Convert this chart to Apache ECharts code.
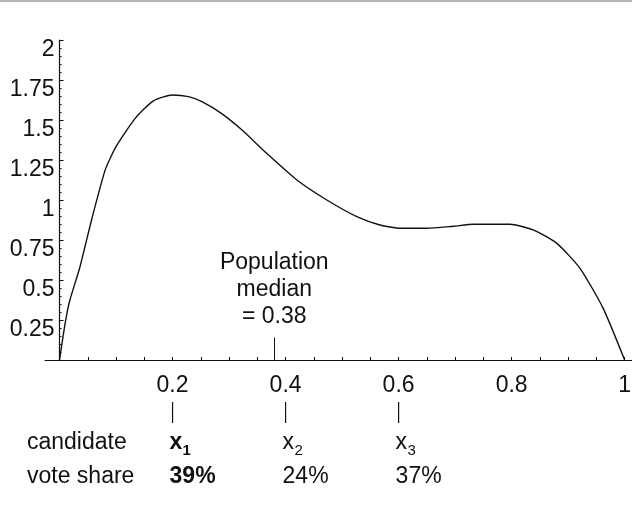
<!DOCTYPE html>
<html>
<head>
<meta charset="utf-8">
<script src="https://cdn.jsdelivr.net/npm/echarts@6/dist/echarts.min.js"></script>
<style>
  html, body { margin: 0; padding: 0; background: #fff; }
  #main { width: 632px; height: 516px; }
</style>
</head>
<body>
<div id="main"></div>
<script>
// density curve
var xs = [0, 0.01, 0.018, 0.036, 0.057, 0.081, 0.101, 0.134, 0.166, 0.2, 0.228, 0.252, 0.287, 0.322,
  0.367, 0.42, 0.473, 0.526, 0.567, 0.603, 0.65, 0.697, 0.732, 0.797, 0.839, 0.88, 0.921, 0.962, 1.0];
var ys = [0, 0.23, 0.37, 0.58, 0.88, 1.19, 1.34, 1.51, 1.62, 1.656, 1.646, 1.615, 1.54, 1.44,
  1.29, 1.125, 1.0, 0.896, 0.844, 0.823, 0.823, 0.836, 0.848, 0.848, 0.812, 0.729, 0.573, 0.323, 0];

var median = 0.38;
var medianTickTop = 0.14;

var xLabelValues = [0.2, 0.4, 0.6, 0.8, 1];
var xTickValues = [0.05, 0.1, 0.15, 0.2, 0.25, 0.3, 0.35, 0.4, 0.45, 0.5,
  0.55, 0.6, 0.65, 0.7, 0.75, 0.8, 0.85, 0.9, 0.95, 1];

// candidates table under the axis
var candidatePos = [0.2, 0.4, 0.6];
var candidateSub = ['1', '2', '3'];
var voteShare = ['39%', '24%', '37%'];
var winner = 0;

var FONT = '"Liberation Sans", Arial, Helvetica, sans-serif';
var INK = '#111';

var chart = echarts.init(document.getElementById('main'), null, { renderer: 'canvas' });

var option = {
  animation: false,
  backgroundColor: '#fff',
  textStyle: { fontFamily: FONT, color: INK },
  grid: { left: 45, right: 0, top: 40, bottom: 156, containLabel: false, outerBoundsMode: 'none' },
  xAxis: {
    type: 'value',
    min: -0.0257,
    max: 1.013,
    splitLine: { show: false },
    axisLine: { lineStyle: { color: INK, width: 1.2 } },
    axisTick: {
      inside: true, length: 3,
      customValues: xTickValues,
      lineStyle: { color: INK, width: 1 }
    },
    axisLabel: {
      customValues: xLabelValues,
      fontSize: 23, color: INK, fontFamily: FONT, margin: 14
    }
  },
  yAxis: {
    type: 'value',
    min: 0,
    max: 2,
    interval: 0.25,
    offset: -14.5, // y axis sits at x = 0, not at the grid edge
    splitLine: { show: false },
    axisLine: { onZero: false, lineStyle: { color: INK, width: 1.2 } },
    axisTick: { inside: true, length: 4, lineStyle: { color: INK, width: 1 } },
    minorTick: { show: true, splitNumber: 5, length: 2, lineStyle: { color: INK, width: 1 } },
    axisLabel: {
      showMinLabel: false,
      fontSize: 23, color: INK, fontFamily: FONT, margin: 5,
      verticalAlign: 'top', lineHeight: 20
    }
  },
  series: [{
    type: 'line',
    data: xs.map(function (x, i) { return [x, ys[i]]; }),
    showSymbol: false,
    smooth: 0.2,
    lineStyle: { color: INK, width: 1.4 },
    markLine: {
      silent: true,
      symbol: 'none',
      lineStyle: { color: INK, width: 1, type: 'solid' },
      label: {
        show: true,
        position: 'end',
        distance: 7,
        formatter: 'Population\nmedian\n= ' + median,
        fontSize: 23,
        lineHeight: 27,
        color: INK,
        fontFamily: FONT
      },
      data: [[{ coord: [median, 0] }, { coord: [median, medianTickTop] }]]
    }
  }]
};
chart.setOption(option);

// table of candidates, placed with the x axis scale
var axisY = chart.convertToPixel({ yAxisIndex: 0 }, 0);
var g = [
  { type: 'rect', shape: { x: 0, y: 0, width: 632, height: 2 }, style: { fill: '#b5b5b5' } },
  { type: 'text', left: 27, top: axisY + 83 - 12,
    style: { text: 'candidate', fontSize: 23, fontFamily: FONT, fill: INK } },
  { type: 'text', left: 27, top: axisY + 117 - 12,
    style: { text: 'vote share', fontSize: 23, fontFamily: FONT, fill: INK } }
];
candidatePos.forEach(function (c, i) {
  var px = chart.convertToPixel({ xAxisIndex: 0 }, c);
  var bold = i === winner ? 'bold' : 'normal';
  g.push({ type: 'line', shape: { x1: px, y1: axisY + 42, x2: px, y2: axisY + 63 },
    style: { stroke: INK, lineWidth: 1.2 } });
  g.push({ type: 'text', x: px - 3, y: axisY + 83,
    style: { text: 'x', fontSize: 23, fontWeight: bold, fontFamily: FONT, fill: INK,
      align: 'left', verticalAlign: 'middle' } });
  g.push({ type: 'text', x: px - 3 + (i === winner ? 13 : 12), y: axisY + 91,
    style: { text: candidateSub[i], fontSize: 15, fontWeight: bold, fontFamily: FONT, fill: INK,
      align: 'left', verticalAlign: 'middle' } });
  g.push({ type: 'text', x: px - 3, y: axisY + 117,
    style: { text: voteShare[i], fontSize: 23, fontWeight: bold, fontFamily: FONT, fill: INK,
      align: 'left', verticalAlign: 'middle' } });
});
chart.setOption({ graphic: g });
</script>
</body>
</html>
